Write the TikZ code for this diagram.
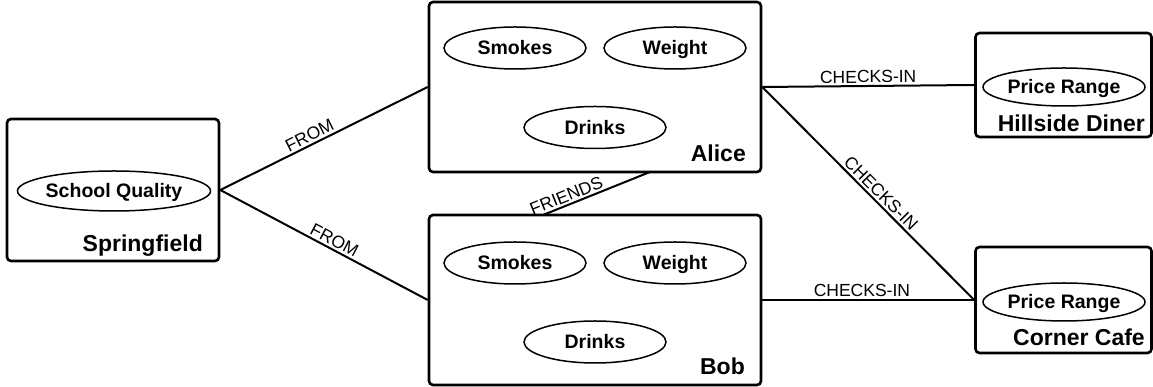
\documentclass[tikz,border=0pt]{standalone}
\usepackage{fontspec}
\setmainfont{Liberation Sans}
\usetikzlibrary{shapes.geometric}
\begin{document}
\begin{tikzpicture}[x=1pt,y=1pt,
  entity/.style={draw, line width=2.6pt, rounded corners=4pt, inner sep=0pt},
  attr/.style={draw, ellipse, line width=1.5pt, inner sep=0pt,
    minimum width=142pt, minimum height=42pt,
    text height=14pt, text depth=0pt,
    font=\fontsize{19.5}{20}\selectfont\bfseries},
  ename/.style={anchor=base east, inner sep=0pt,
    font=\fontsize{23}{24}\selectfont\bfseries},
  rel/.style={line width=2pt},
  rlabel/.style={sloped, above, inner sep=2pt,
    font=\fontsize{17.5}{18}\selectfont}]
\useasboundingbox (0,0) rectangle (1153,387);

% entity boxes
\node[entity, minimum width=212pt, minimum height=142pt] (spring) at (113,197) {};
\node[entity, minimum width=332pt, minimum height=170pt] (alice) at (595,300) {};
\node[entity, minimum width=332pt, minimum height=170pt] (bob) at (595,87) {};
\node[entity, minimum width=176pt, minimum height=104pt] (hill) at (1063.5,302) {};
\node[entity, minimum width=176pt, minimum height=106pt] (corner) at (1063.5,87) {};

% entity names
\node[ename] (springname) at (203,135) {Springfield};
\node[ename] (alicename) at (746,225) {Alice};
\node[ename] (bobname) at (745,12) {Bob};
\node[ename] (hillname) at (1145,255) {Hillside Diner};
\node[ename] (cornername) at (1145,41) {Corner Cafe};

% attributes
\node[attr, minimum width=165pt, minimum height=40pt] (school) at (114,196) {School Quality};
\node[attr] (asmokes) at (515,339) {Smokes};
\node[attr] (aweight) at (675,339) {Weight};
\node[attr] (adrinks) at (595,259.5) {Drinks};
\node[attr] (bsmokes) at (515,124) {Smokes};
\node[attr] (bweight) at (675,124) {Weight};
\node[attr] (bdrinks) at (595,45) {Drinks};
\node[attr, minimum width=162pt, minimum height=38pt] (hprice) at (1064,300) {Price Range};
\node[attr, minimum width=162pt, minimum height=38pt] (cprice) at (1064,85) {Price Range};

% friendship end points
\coordinate (fbob) at (543,172);
\coordinate (falice) at (650,215);

% relationships
\draw[rel] (spring.east) -- node[rlabel, pos=0.45] {FROM} (alice.west);
\draw[rel] (spring.east) -- node[rlabel, pos=0.53] {FROM} (bob.west);
\draw[rel] (fbob) -- node[rlabel, pos=0.25] {FRIENDS} (falice);
\draw[rel] (alice.east) -- node[rlabel, pos=0.5] {CHECKS-IN} (hill.west);
\draw[rel] (alice.east) -- node[rlabel, pos=0.53] {CHECKS-IN} (corner.west);
\draw[rel] (bob.east) -- node[rlabel, pos=0.47] {CHECKS-IN} (corner.west);
\end{tikzpicture}
\end{document}
